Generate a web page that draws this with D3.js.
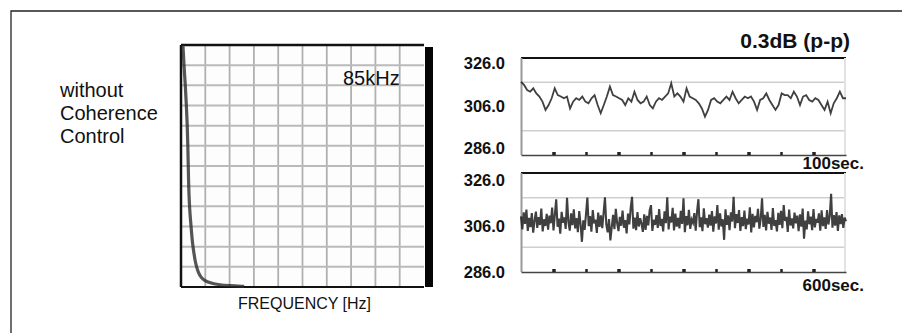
<!DOCTYPE html>
<meta charset="utf-8">
<head>
  <title>Coherence Control</title>
  <style>
    body { margin: 0; background: #fff; }
    text { font-family: "Liberation Sans", Arial, sans-serif; }
  </style>
</head>
<body>
<div id="chart"></div>
<script src="https://d3js.org/d3.v7.min.js"></script>
<script>

// spectrum trace, read in screen divisions (10 across, 12 up)
var specFreq  = [0.08, 0.12, 0.18, 0.22, 0.26, 0.28, 0.30, 0.31, 0.33, 0.36, 0.40, 0.44, 0.48, 0.53, 0.58, 0.64, 0.72, 0.82, 0.96, 1.20, 1.50, 2.00, 2.60];
var specLevel = [12.0, 11.0, 10.0, 9.0,  8.0,  7.0,  6.0,  5.3,  4.5,  3.8,  3.2,  2.6,  2.1,  1.7,  1.3,  1.0,  0.7,  0.48, 0.32, 0.20, 0.12, 0.06, 0.03];

// power traces
var powerTicks = [286, 306, 326];
var gridLevels = [296, 316];

// 100 sec run
var shortRun = [
  316.2,314.9,312.8,312.1,313.5,311.4,310.1,308.0,304.6,306.6,
  309.4,313.5,310.7,310.1,309.4,310.1,305.2,308.0,309.4,308.7,
  310.1,308.0,307.3,309.4,310.7,306.6,303.2,306.6,310.1,314.2,
  310.7,310.1,309.4,308.7,306.6,309.4,308.0,312.1,308.7,307.3,
  308.0,310.1,306.6,305.2,308.0,309.4,308.7,310.1,311.4,315.6,
  310.1,311.4,310.1,308.0,313.5,310.1,309.4,308.7,307.3,305.2,
  301.8,304.6,308.7,309.4,308.0,307.3,308.7,310.1,308.7,312.1,
  309.4,307.3,308.7,310.1,309.4,310.1,308.0,304.6,308.7,309.4,
  311.4,308.7,306.6,304.6,306.6,311.4,310.7,310.7,309.4,312.1,
  310.1,306.6,310.1,310.7,308.7,308.0,309.4,308.7,306.6,304.6,
  308.0,303.2,307.3,309.4,312.1,309.4,309.4
];

// 600 sec run
var longRun = [
  308.5,303.2,310.1,305.4,311.2,302.6,307.9,304.1,309.8,301.9,306.7,310.4,303.8,308.2,305.0,311.6,302.4,307.3,304.6,309.5,
  303.1,308.8,305.7,312.0,302.8,309.2,315.4,304.3,307.6,301.5,310.3,305.9,308.1,303.4,316.0,306.2,302.7,309.7,304.9,311.3,
  303.6,307.8,302.1,310.6,305.3,298.2,306.9,303.0,309.4,316.1,304.5,308.6,302.3,311.0,305.6,307.2,301.8,310.0,304.2,308.9,
  303.7,309.9,316.2,305.1,302.0,307.4,298.8,304.0,309.1,303.3,311.5,305.8,302.5,308.3,304.7,310.8,303.9,307.0,301.6,309.6,
  305.2,311.8,316.4,303.5,308.0,302.9,310.2,304.4,307.7,305.5,302.2,309.3,303.0,308.7,304.8,310.9,313.0,302.6,307.1,305.0,
  309.0,303.8,311.4,304.6,307.5,302.4,310.5,305.7,316.2,303.2,308.4,306.0,311.9,302.8,309.6,304.3,307.9,303.6,310.7,305.4,
  315.8,302.1,308.6,304.9,311.1,303.4,307.2,305.9,309.8,302.7,310.4,315.4,304.1,308.1,302.5,311.7,305.3,307.8,303.9,309.2,
  304.7,310.6,302.3,308.5,305.6,313.0,303.1,309.7,304.4,307.3,299.0,311.3,305.1,308.9,302.9,310.1,306.4,316.4,303.7,309.4,
  305.8,311.0,302.6,308.2,304.5,310.8,303.3,307.6,305.2,312.1,302.0,309.5,304.0,308.7,306.1,311.5,303.5,307.4,315.8,304.2,
  309.1,302.8,310.3,305.5,308.0,303.0,311.8,304.6,307.0,302.4,309.9,305.0,310.7,303.7,313.0,306.6,308.3,302.2,311.2,304.8,
  307.7,303.6,310.0,305.7,308.8,302.5,309.3,304.3,311.6,299.5,306.8,303.2,310.5,305.3,308.4,302.9,311.4,304.0,307.5,305.9,
  309.7,302.7,310.9,304.5,308.1,303.4,311.0,305.2,308.6,317.6,303.9,309.0,304.7,310.2,302.6,308.9,305.4,309.4,303.8,308.0,306.5
];

var width = 902, height = 333;

var svg = d3.select("#chart").append("svg")
    .attr("width", width)
    .attr("height", height);

// outer frame (cut off on right and bottom)
svg.append("path")
    .attr("d", "M11,333 V11 H902")
    .style("fill", "none")
    .style("stroke", "#222")
    .style("stroke-width", 1.3);

// side caption
var cap = svg.append("text")
    .attr("x", 60)
    .style("font-size", "20px")
    .style("fill", "#111");
["without", "Coherence", "Control"].forEach(function(s, i) {
  cap.append("tspan").attr("x", 60).attr("y", 97 + i * 23).text(s);
});

// ---- spectrum screen ----
var sx = d3.scaleLinear().domain([0, 10]).range([181, 424]);
var sy = d3.scaleLinear().domain([0, 12]).range([287, 45]);

var spec = svg.append("g");

spec.append("rect")
    .attr("x", sx(0)).attr("y", sy(12))
    .attr("width", sx(10) - sx(0)).attr("height", sy(0) - sy(12))
    .style("fill", "#fdfdfd");

spec.selectAll("line.v")
    .data(d3.range(1, 10))
  .enter().append("line")
    .attr("x1", function(d) { return sx(d); })
    .attr("x2", function(d) { return sx(d); })
    .attr("y1", sy(12)).attr("y2", sy(0))
    .style("stroke", "#b0b0b0")
    .style("stroke-width", 1.8);

spec.selectAll("line.h")
    .data(d3.range(1, 12))
  .enter().append("line")
    .attr("y1", function(d) { return sy(d); })
    .attr("y2", function(d) { return sy(d); })
    .attr("x1", sx(0)).attr("x2", sx(10))
    .style("stroke", "#bababa")
    .style("stroke-width", 2);

// borders
spec.append("line")
    .attr("x1", sx(0)).attr("x2", sx(10)).attr("y1", sy(12)).attr("y2", sy(12))
    .style("stroke", "#111").style("stroke-width", 2.5);
spec.append("line")
    .attr("x1", sx(0)).attr("x2", sx(10)).attr("y1", sy(0)).attr("y2", sy(0))
    .style("stroke", "#111").style("stroke-width", 2);
spec.append("line")
    .attr("x1", sx(0)).attr("x2", sx(0)).attr("y1", sy(12)).attr("y2", sy(0))
    .style("stroke", "#111").style("stroke-width", 2.5);
spec.append("rect")
    .attr("x", sx(10) + 1).attr("y", sy(12) + 2)
    .attr("width", 8).attr("height", sy(0) - sy(12) - 2)
    .style("fill", "#050505");

var specLine = d3.line()
    .x(function(d, i) { return sx(specFreq[i]); })
    .y(function(d) { return sy(d); })
    .curve(d3.curveBasis);

spec.append("path")
    .datum(specLevel)
    .attr("d", specLine)
    .style("fill", "none")
    .style("stroke", "#2a2a2a")
    .style("stroke-width", 3.2)
    .style("opacity", 0.8);

spec.append("text")
    .attr("x", 343).attr("y", 85)
    .style("font-size", "20px")
    .style("fill", "#111")
    .text("85kHz");

spec.append("text")
    .attr("x", (sx(0) + sx(10)) / 2 + 2).attr("y", 309)
    .attr("text-anchor", "middle")
    .style("font-size", "16px")
    .style("fill", "#111")
    .text("FREQUENCY [Hz]");

// ---- power traces ----
var panels = [
  {values: shortRun, secs: 100, top: 58, bottom: 155, labels: [154.3, 69.3], tag: "100sec.", tagY: 168.5, w: 1.8},
  {values: longRun,  secs: 600, top: 173, bottom: 272, labels: [278.3, 185.7], tag: "600sec.", tagY: 290.7, w: 2.1}
];

panels.forEach(function(p) {
  var x = d3.scaleLinear().domain([0, p.secs]).range([521, 846]);
  var y = d3.scaleLinear().domain([286, 326]).range([p.bottom, p.top]);
  var ly = d3.scaleLinear().domain([286, 326]).range(p.labels);
  var g = svg.append("g");

  g.selectAll("line.grid")
      .data(gridLevels)
    .enter().append("line")
      .attr("x1", x(0)).attr("x2", x(p.secs))
      .attr("y1", function(d) { return y(d); })
      .attr("y2", function(d) { return y(d); })
      .style("stroke", "#cfcfcf")
      .style("stroke-width", 1.4);

  // frame
  g.append("line")
      .attr("x1", x(0)).attr("x2", x(p.secs)).attr("y1", p.top).attr("y2", p.top)
      .style("stroke", "#111").style("stroke-width", 2.2);
  g.append("line")
      .attr("x1", x(0) + 0.5).attr("x2", x(0) + 0.5).attr("y1", p.top).attr("y2", p.bottom)
      .style("stroke", "#999").style("stroke-width", 2);
  g.append("line")
      .attr("x1", x(p.secs) - 1).attr("x2", x(p.secs) - 1).attr("y1", p.top).attr("y2", p.bottom)
      .style("stroke", "#e2e2e2").style("stroke-width", 2);

  // bottom axis with dot ticks
  var axis = g.append("g")
      .attr("transform", "translate(0," + p.bottom + ")")
      .call(d3.axisBottom(x)
        .tickValues(d3.range(1, 10).map(function(k) { return k * p.secs / 10; }))
        .tickSizeInner(-3).tickSizeOuter(0).tickFormat(""));
  axis.select(".domain").style("stroke", "#444").style("stroke-width", 1.6);
  axis.selectAll(".tick line")
      .style("stroke", "#222")
      .style("stroke-width", function(d, i) { return i % 2 ? 2.5 : 3.5; });

  var trace = d3.line()
      .x(function(d, i) { return x(i * p.secs / (p.values.length - 1)); })
      .y(function(d) { return y(d); });

  g.append("path")
      .datum(p.values)
      .attr("d", trace)
      .style("fill", "none")
      .style("stroke", "#1e1e1e")
      .style("stroke-width", p.w)
      .style("opacity", 0.85);

  g.selectAll("text.tick")
      .data(powerTicks)
    .enter().append("text")
      .attr("x", 505)
      .attr("y", function(d) { return ly(d); })
      .attr("text-anchor", "end")
      .style("font-size", "16.5px")
      .style("font-weight", "bold")
      .style("fill", "#111")
      .text(function(d) { return d.toFixed(1); });

  g.append("text")
      .attr("x", 864).attr("y", p.tagY)
      .attr("text-anchor", "end")
      .style("font-size", "17px")
      .style("font-weight", "bold")
      .style("fill", "#111")
      .text(p.tag);
});

svg.append("text")
    .attr("x", 850).attr("y", 48)
    .attr("text-anchor", "end")
    .style("font-size", "21px")
    .style("font-weight", "bold")
    .style("fill", "#111")
    .text("0.3dB (p-p)");

</script>
</body>
</html>
